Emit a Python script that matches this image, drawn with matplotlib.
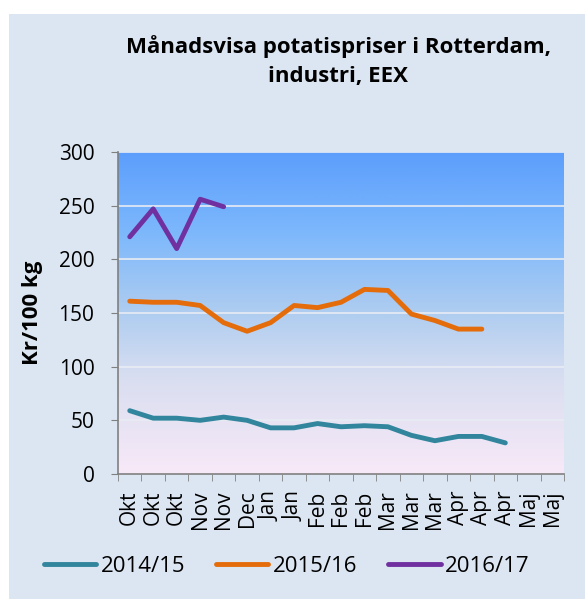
import matplotlib
matplotlib.use("Agg")
import matplotlib.pyplot as plt
from matplotlib.colors import LinearSegmentedColormap
from matplotlib.patches import Rectangle
import numpy as np

plt.rcParams['font.family'] = ['Open Sans', 'DejaVu Sans']

months = ["Okt", "Okt", "Okt", "Nov", "Nov", "Dec", "Jan", "Jan", "Feb", "Feb",
          "Feb", "Mar", "Mar", "Mar", "Apr", "Apr", "Apr", "Maj", "Maj"]
s1415 = [59, 52, 52, 50, 53, 50, 43, 43, 47, 44, 45, 44, 36, 31, 35, 35, 29]
s1516 = [161, 160, 160, 157, 141, 133, 141, 157, 155, 160, 172, 171, 149, 143, 135, 135]
s1617 = [221, 247, 210, 256, 249]
series_names = ["2014/15", "2015/16", "2016/17"]
colors = ["#31859C", "#E46C0A", "#7030A0"]

fig = plt.figure(figsize=(5.85, 5.99), dpi=100)
fig.patch.set_facecolor("white")
fig.patches.append(Rectangle((9/585, 0), 1, 1 - 14/599, transform=fig.transFigure,
                             facecolor="#DCE6F2", edgecolor="none", zorder=-10))

ax = fig.add_axes([118/585, 1 - 474/599, 446/585, 322/599])

# gradient background
grad = LinearSegmentedColormap.from_list("bg", [
    (0.0, "#F8E9F8"), (0.3, "#D8DEF0"), (0.5, "#AFCDF0"),
    (0.75, "#7DB8FC"), (1.0, "#5C9EFC")])
g = np.linspace(0, 1, 256).reshape(-1, 1)
ax.imshow(g, cmap=grad, aspect="auto", origin="lower",
          extent=[-0.5, len(months) - 0.5, 0, 300], zorder=0)

for v in range(50, 301, 50):
    ax.axhline(v, color="#E8ECF4", lw=1.2, zorder=1)

data = [s1415, s1516, s1617]
for vals, name, c in zip(data, series_names, colors):
    ax.plot(np.arange(len(vals)), vals, color=c, lw=3.5, label=name,
            solid_capstyle="round", solid_joinstyle="round", zorder=3)

ax.set_xlim(-0.5, len(months) - 0.5)
ax.set_ylim(0, 300)
ax.set_yticks(range(0, 301, 50))
ax.tick_params(axis="y", labelsize=15, length=5, color="#808080", pad=12)
ax.set_xticks(np.arange(len(months)))
ax.set_xticklabels(months, rotation=90, fontsize=15)
ax.tick_params(axis="x", length=0, pad=12)
ax.set_xticks(np.arange(len(months) + 1) - 0.5, minor=True)
ax.tick_params(axis="x", which="minor", length=5, color="#808080")

for s in ["top", "right"]:
    ax.spines[s].set_visible(False)
for s in ["left", "bottom"]:
    ax.spines[s].set_color("#808080")
    ax.spines[s].set_linewidth(1.2)

ax.set_ylabel("Kr/100 kg", fontsize=16, fontweight="bold")
ax.yaxis.set_label_coords(-0.168, 0.5)

fig.text(0.578, 0.898, "Månadsvisa potatispriser i Rotterdam,\nindustri, EEX",
         ha="center", va="center", fontsize=16, fontweight="bold", linespacing=1.45)

fig.legend(loc="center", bbox_to_anchor=(0.49, 0.055), ncol=3, frameon=False,
           fontsize=16, handlelength=2.35, columnspacing=1.4, handletextpad=0.2)

fig.savefig("out.png", dpi=100, facecolor=fig.get_facecolor())
